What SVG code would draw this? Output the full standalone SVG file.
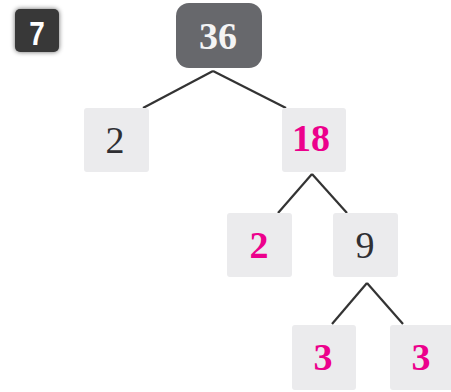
<svg xmlns="http://www.w3.org/2000/svg" width="451" height="392" viewBox="0 0 451 392">
<defs>
<filter id="sh" x="-30%" y="-30%" width="160%" height="160%">
<feGaussianBlur in="SourceAlpha" stdDeviation="2.5"/>
<feComponentTransfer><feFuncA type="linear" slope="0.6"/></feComponentTransfer>
<feMerge><feMergeNode/><feMergeNode in="SourceGraphic"/></feMerge>
</filter>
</defs>
<style>
.box{fill:#ebebed;}
.t{font-family:"Liberation Serif","DejaVu Serif",serif;font-size:38px;text-anchor:middle;}
.dark{fill:#2f2f33;}
.pink{fill:#ec008c;font-weight:bold;}
.edge{stroke:#333;stroke-width:2.2;fill:none;}
</style>
<rect width="451" height="392" fill="#fff"/>
<g id="badge">
<rect x="15" y="9" width="44" height="43" rx="5" fill="#383838" filter="url(#sh)"/>
<text x="0" y="0" transform="translate(37 45) scale(0.82 1)" font-family="Liberation Sans,Arial,sans-serif" font-weight="bold" font-size="34" fill="#fff" text-anchor="middle">7</text>
</g>
<g id="connectors">
<line class="edge" x1="213" y1="71" x2="143" y2="108"/>
<line class="edge" x1="213" y1="71" x2="286" y2="108"/>
<line class="edge" x1="312" y1="174" x2="278" y2="213"/>
<line class="edge" x1="312" y1="174" x2="347" y2="213"/>
<line class="edge" x1="367" y1="283" x2="332" y2="324"/>
<line class="edge" x1="367" y1="283" x2="403" y2="324"/>
</g>
<g id="n36">
<rect x="176" y="3" width="86" height="65" rx="13" fill="#67686c"/>
<text class="t" x="218" y="49" font-weight="bold" font-size="35" fill="#f4f4f4">36</text>
</g>
<g id="n2a">
<rect class="box" x="84" y="108" width="65" height="64" rx="3"/>
<text class="t dark" x="115" y="153">2</text>
</g>
<g id="n18">
<rect class="box" x="282" y="108" width="64" height="64" rx="3"/>
<text class="t pink" x="311" y="151">18</text>
</g>
<g id="n2b">
<rect class="box" x="227" y="213" width="65" height="64" rx="3"/>
<text class="t pink" x="259" y="258">2</text>
</g>
<g id="n9">
<rect class="box" x="333" y="213" width="65" height="64" rx="3"/>
<text class="t dark" x="365" y="258">9</text>
</g>
<g id="n3a">
<rect class="box" x="292" y="325" width="64" height="65" rx="3"/>
<text class="t pink" x="323" y="370">3</text>
</g>
<g id="n3b">
<rect class="box" x="390" y="325" width="64" height="65" rx="3"/>
<text class="t pink" x="421" y="370">3</text>
</g>
</svg>
